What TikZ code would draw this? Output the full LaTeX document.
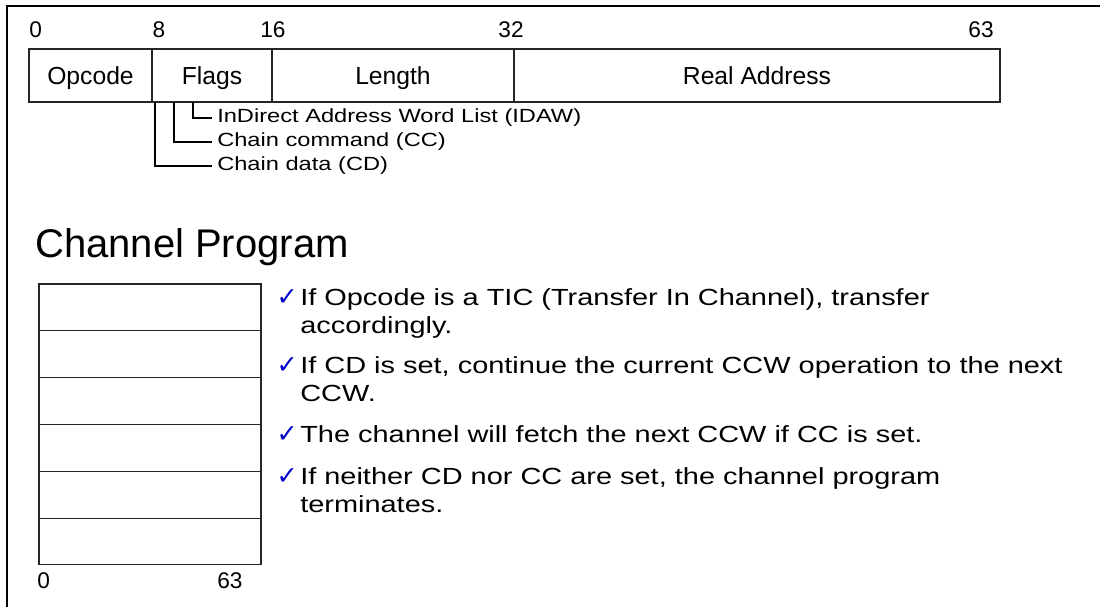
\documentclass[tikz,border=0pt]{standalone}
\usepackage{fontspec}
\setmainfont{Liberation Sans}
\newfontfamily\widefont[FakeStretch=1.24]{Liberation Sans}
\newfontfamily\tickfont{DejaVu Sans}
\usetikzlibrary{positioning}
\definecolor{tickblue}{RGB}{0,0,200}
\tikzset{
  field/.style={draw=black!85, line width=0.8pt, inner sep=0pt, outer sep=0pt,
    minimum height=39.75pt, text height=13pt, text depth=0pt,
    font=\fontsize{18.5}{22}\selectfont},
  bitnum/.style={inner sep=0pt, font=\fontsize{17}{20}\selectfont},
  flagline/.style={line width=1.5pt},
  flagtext/.style={inner sep=0pt, anchor=west, font=\widefont\fontsize{14.3}{17}\selectfont},
  ccwrow/.style={draw=black!85, line width=0.8pt, inner sep=0pt, outer sep=0pt,
    minimum width=166.5pt, minimum height=35.1pt},
  bullet/.style={inner sep=0pt, anchor=north west, align=left,
    font=\widefont\fontsize{17.5}{21}\selectfont},
  tick/.style={inner sep=0pt, anchor=base east, text=tickblue,
    font=\tickfont\fontsize{19}{21}\selectfont}
}
\begin{document}
\begin{tikzpicture}[x=0.75pt, y=-0.75pt]
    \useasboundingbox (0,0) rectangle (1100,607);

    % Frame
    \draw[line width=1pt] (1100,6) -- (7,6) -- (7,607);

    % CCW format
    \node[field, minimum width=92.25pt] (opcode) at (90.5,75.5) {Opcode};
    \node[field, minimum width=90pt] (flags) at (212,75.5) {Flags};
    \node[field, minimum width=181.5pt] (length) at (393,75.5) {Length};
    \node[field, minimum width=364.5pt] (addr) at (757,75.5) {Real Address};

    % Bit positions
    \node[bitnum, anchor=west] (b0) at (29,30) {0};
    \node[bitnum] (b8) at (159,30) {8};
    \node[bitnum] (b16) at (273,30) {16};
    \node[bitnum] (b32) at (511,30) {32};
    \node[bitnum] (b63) at (981,30) {63};

    % Flag bits
    \coordinate (fcd) at (155,102);
    \coordinate (fcc) at (174,102);
    \coordinate (fidaw) at (193,102);
    \node[flagtext] (idaw) at (217,118) {InDirect Address Word List (IDAW)};
    \node[flagtext] (cc) at (217,142) {Chain command (CC)};
    \node[flagtext] (cd) at (217,166) {Chain data (CD)};
    \draw[flagline] (fidaw) |- ([xshift=-4pt]idaw.west);
    \draw[flagline] (fcc) |- ([xshift=-4pt]cc.west);
    \draw[flagline] (fcd) |- ([xshift=-4pt]cd.west);

    % Channel program
    \node[inner sep=0pt, anchor=base west, font=\fontsize{30}{36}\selectfont]
        (title) at (35,257) {Channel Program};
    \foreach \i in {0,...,5}
        \node[ccwrow] (ccw\i) at (150,307.4+46.83*\i) {};
    \node[bitnum, anchor=north west] (c0) at (37,572) {0};
    \node[bitnum, anchor=north] (c63) at (230,572) {63};

    % Notes
    \node[bullet] (n1) at (300,288) {If Opcode is a TIC (Transfer In Channel), transfer\\accordingly.};
    \node[bullet] (n2) at (300,356) {If CD is set, continue the current CCW operation to the next\\CCW.};
    \node[bullet] (n3) at (300,425) {The channel will fetch the next CCW if CC is set.};
    \node[bullet] (n4) at (300,467) {If neither CD nor CC are set, the channel program\\terminates.};
    \foreach \n in {n1,n2,n3,n4}
        \node[tick] (t\n) at ([xshift=-1.5pt,yshift=-12.75pt]\n.north west) {✓};
\end{tikzpicture}
\end{document}
